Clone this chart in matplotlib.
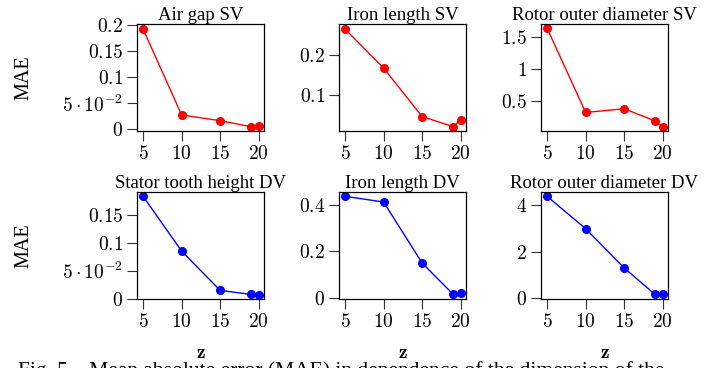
import matplotlib
matplotlib.use("Agg")
import matplotlib.pyplot as plt

plt.rcParams['font.family'] = ['Liberation Serif', 'DejaVu Serif']
plt.rcParams['mathtext.fontset'] = 'cm'

z_values = [5, 10, 15, 19, 20]

air_gap_sv = [0.192, 0.0275, 0.0165, 0.005, 0.0063]
iron_length_sv = [0.264, 0.167, 0.046, 0.021, 0.0375]
rotor_diam_sv = [1.632, 0.316, 0.374, 0.184, 0.094]
stator_tooth_dv = [0.1827, 0.0851, 0.0149, 0.0077, 0.0073]
iron_length_dv = [0.4354, 0.411, 0.150, 0.017, 0.020]
rotor_diam_dv = [4.39, 2.99, 1.29, 0.147, 0.15]

titles = ["Air gap SV", "Iron length SV", "Rotor outer diameter SV",
          "Stator tooth height DV", "Iron length DV", "Rotor outer diameter DV"]
series = [air_gap_sv, iron_length_sv, rotor_diam_sv,
          stator_tooth_dv, iron_length_dv, rotor_diam_dv]
y_ticks = [[0, 0.05, 0.1, 0.15, 0.2], [0.1, 0.2], [0.5, 1, 1.5],
           [0, 0.05, 0.1, 0.15], [0, 0.2, 0.4], [0, 2, 4]]
y_tick_labels = [["0", r"5\cdot10^{-2}", "0.1", "0.15", "0.2"], ["0.1", "0.2"],
                 ["0.5", "1", "1.5"], ["0", r"5\cdot10^{-2}", "0.1", "0.15"],
                 ["0", "0.2", "0.4"], ["0", "2", "4"]]
y_limits = [(-0.0033, 0.202), (0.01, 0.277), (0.026, 1.70),
            (-0.0005, 0.1906), (-0.004, 0.454), (-0.057, 4.58)]
x_ticks = [5, 10, 15, 20]

W, H = 727, 368
fig = plt.figure(figsize=(W / 100, H / 100), dpi=100)

lefts = [137, 339, 541]
tops = [24, 192]
ax_w, ax_h = 127, 107

for i in range(6):
    row, col = divmod(i, 3)
    ax = fig.add_axes([lefts[col] / W, 1 - (tops[row] + ax_h) / H, ax_w / W, ax_h / H])
    color = '#ff0000' if row == 0 else '#0000ff'
    ax.plot(z_values, series[i], '-o', color=color, lw=1.0, ms=5.5)
    ax.set_xlim(4.2, 20.7)
    ax.set_ylim(*y_limits[i])
    ax.set_xticks(x_ticks)
    ax.set_xticklabels(["$%d$" % v for v in x_ticks])
    ax.set_yticks(y_ticks[i])
    ax.set_yticklabels(["$%s$" % s for s in y_tick_labels[i]])
    ax.tick_params(direction='out', length=7, width=0.8, labelsize=14, pad=3, color='#333333')
    for sp in ax.spines.values():
        sp.set_linewidth(0.9)
    ax.set_title(titles[i], fontsize=13.5, pad=3)
    if col == 0:
        ax.set_ylabel("MAE", fontsize=14.5)
        ax.yaxis.set_label_coords(-104 / ax_w, 0.5)
    if row == 1:
        ax.set_xlabel(r"$\mathbf{z}$", fontsize=14)
        ax.xaxis.set_label_coords(0.5, -(352 - 298) / ax_h)
        ax.xaxis.label.set_va('center')

fig.text(18 / W, 1 - 361 / H,
         "Fig. 5.   Mean absolute error (MAE) in dependence of the dimension of the",
         fontsize=15.5, va='top', ha='left')

fig.savefig("out.png", dpi=100)
